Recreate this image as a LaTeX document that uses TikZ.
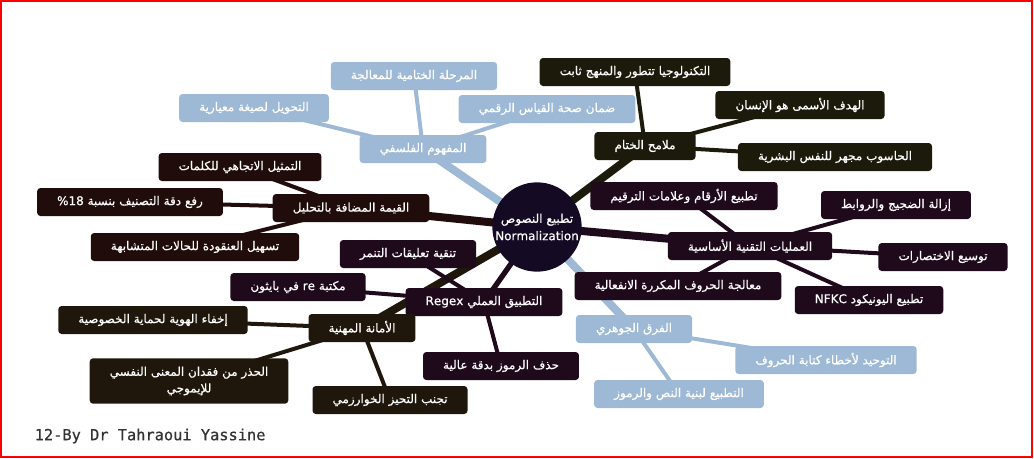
\documentclass[tikz,border=0pt]{standalone}
\usepackage{fontspec}
\usetikzlibrary{backgrounds}

\TeXXeTstate=1
\newfontfamily\arabicfont[Script=Arabic, FakeBold=0.6]{DejaVu Sans}
\newfontfamily\footfont[FakeBold=0.6]{DejaVu Sans Mono}
\newcommand{\artxt}[1]{\beginR #1\endR}

\definecolor{mapblue}{RGB}{158,185,214}
\definecolor{mapolive}{RGB}{28,27,11}
\definecolor{mappurple}{RGB}{31,10,28}
\definecolor{mapbrown}{RGB}{32,12,10}
\definecolor{mapumber}{RGB}{31,23,11}
\definecolor{mapcore}{RGB}{21,10,36}

\tikzset{
  leaf/.style={rectangle, rounded corners=2.5pt, text=white,
    font=\arabicfont\fontsize{9}{12.5}\selectfont,
    inner xsep=15pt, inner ysep=2pt, minimum height=21pt},
  blueleaf/.style={leaf, fill=mapblue},
  oliveleaf/.style={leaf, fill=mapolive},
  purpleleaf/.style={leaf, fill=mappurple},
  brownleaf/.style={leaf, fill=mapbrown},
  umberleaf/.style={leaf, fill=mapumber},
  trunk/.style={line width=6pt},
  twig/.style={line width=3pt},
}

\begin{document}
\begin{tikzpicture}[x=0.75pt, y=-0.75pt]

\useasboundingbox (0,0) rectangle (1034,458);

% centre
\node [circle, fill=mapcore, minimum size=67pt, inner sep=0pt, text=white, align=center,
  font=\arabicfont\fontsize{9}{13}\selectfont] (core) at (537,227)
  {\artxt{تطبيع النصوص}\\Normalization};

% philosophy
\node [blueleaf] (philo) at (423,149) {\artxt{المفهوم الفلسفي}};
\node [blueleaf] (philoA) at (414,76) {\artxt{المرحلة الختامية للمعالجة}};
\node [blueleaf] (philoB) at (254,108) {\artxt{التحويل لصيغة معيارية}};
\node [blueleaf] (philoC) at (547,109) {\artxt{ضمان صحة القياس الرقمي}};

% closing
\node [oliveleaf] (close) at (645,146) {\artxt{ملامح الختام}};
\node [oliveleaf] (closeA) at (635,72) {\artxt{التكنولوجيا تتطور والمنهج ثابت}};
\node [oliveleaf] (closeB) at (800,105) {\artxt{الهدف الأسمى هو الإنسان}};
\node [oliveleaf] (closeC) at (835,157) {\artxt{الحاسوب مجهر للنفس البشرية}};

% operations
\node [purpleleaf] (ops) at (750,246) {\artxt{العمليات التقنية الأساسية}};
\node [purpleleaf] (opsA) at (684,196) {\artxt{تطبيع الأرقام وعلامات الترقيم}};
\node [purpleleaf] (opsB) at (896,205) {\artxt{إزالة الضجيج والروابط}};
\node [purpleleaf] (opsC) at (943,257) {\artxt{توسيع الاختصارات}};
\node [purpleleaf] (opsD) at (869,300) {\artxt{تطبيع اليونيكود \beginL NFKC\endL}};
\node [purpleleaf] (opsE) at (678,286) {\artxt{معالجة الحروف المكررة الانفعالية}};

% difference
\node [blueleaf] (diff) at (634,329) {\artxt{الفرق الجوهري}};
\node [blueleaf] (diffA) at (826,360) {\artxt{التوحيد لأخطاء كتابة الحروف}};
\node [blueleaf] (diffB) at (679,394) {\artxt{التطبيع لبنية النص والرموز}};

% added value
\node [brownleaf] (value) at (351,208) {\artxt{القيمة المضافة بالتحليل}};
\node [brownleaf] (valueA) at (240,167) {\artxt{التمثيل الاتجاهي للكلمات}};
\node [brownleaf] (valueB) at (130,202) {\artxt{رفع دقة التصنيف بنسبة \beginL\%18\endL}};
\node [brownleaf] (valueC) at (195,247) {\artxt{تسهيل العنقودة للحالات المتشابهة}};

% regex
\node [purpleleaf] (regex) at (484,302) {\artxt{التطبيق العملي \beginL Regex\endL}};
\node [purpleleaf] (regexA) at (408,254) {\artxt{تنقية تعليقات التنمر}};
\node [purpleleaf] (regexB) at (298,287) {\artxt{مكتبة \beginL re\endL{} في بايثون}};
\node [purpleleaf] (regexC) at (501,366) {\artxt{حذف الرموز بدقة عالية}};

% ethics
\node [umberleaf] (ethic) at (362,328) {\artxt{الأمانة المهنية}};
\node [umberleaf] (ethicA) at (153,320) {\artxt{إخفاء الهوية لحماية الخصوصية}};
\node [umberleaf, align=center, minimum height=34pt] (ethicB) at (189,381)
  {\artxt{الحذر من فقدان المعنى النفسي}\\\artxt{للإيموجي}};
\node [umberleaf] (ethicC) at (390,400) {\artxt{تجنب التحيز الخوارزمي}};

\begin{scope}[on background layer]
\draw [trunk, mapblue] (core.center) -- (philo.center);
\draw [trunk, mapolive] (core.center) -- (close.center);
\draw [trunk, mappurple] (core.center) -- (ops.center);
\draw [trunk, mapblue] (core.center) -- (diff.center);
\draw [trunk, mapbrown] (core.center) -- (value.center);
\draw [trunk, mapumber] (core.center) -- (ethic.center);
\draw [line width=4pt, mappurple] (core.center) -- (regex.center);

\foreach \leaf in {philoA, philoB, philoC}
  \draw [twig, mapblue] (philo.center) -- (\leaf.center);
\foreach \leaf in {closeA, closeB, closeC}
  \draw [twig, mapolive] (close.center) -- (\leaf.center);
\foreach \leaf in {opsA, opsB, opsC, opsD, opsE}
  \draw [twig, mappurple] (ops.center) -- (\leaf.center);
\foreach \leaf in {diffA, diffB}
  \draw [twig, mapblue] (diff.center) -- (\leaf.center);
\foreach \leaf in {valueA, valueB, valueC}
  \draw [twig, mapbrown] (value.center) -- (\leaf.center);
\foreach \leaf in {regexA, regexB, regexC}
  \draw [twig, mappurple] (regex.center) -- (\leaf.center);
\foreach \leaf in {ethicA, ethicB, ethicC}
  \draw [twig, mapumber] (ethic.center) -- (\leaf.center);
\end{scope}

\node [anchor=west, text=black!80, font=\footfont\fontsize{11.5}{14}\selectfont] (credit) at (30,436) {12-By Dr Tahraoui Yassine};

\draw [red, line width=1.8pt] (1,1) rectangle (1032,457);

\end{tikzpicture}
\end{document}
